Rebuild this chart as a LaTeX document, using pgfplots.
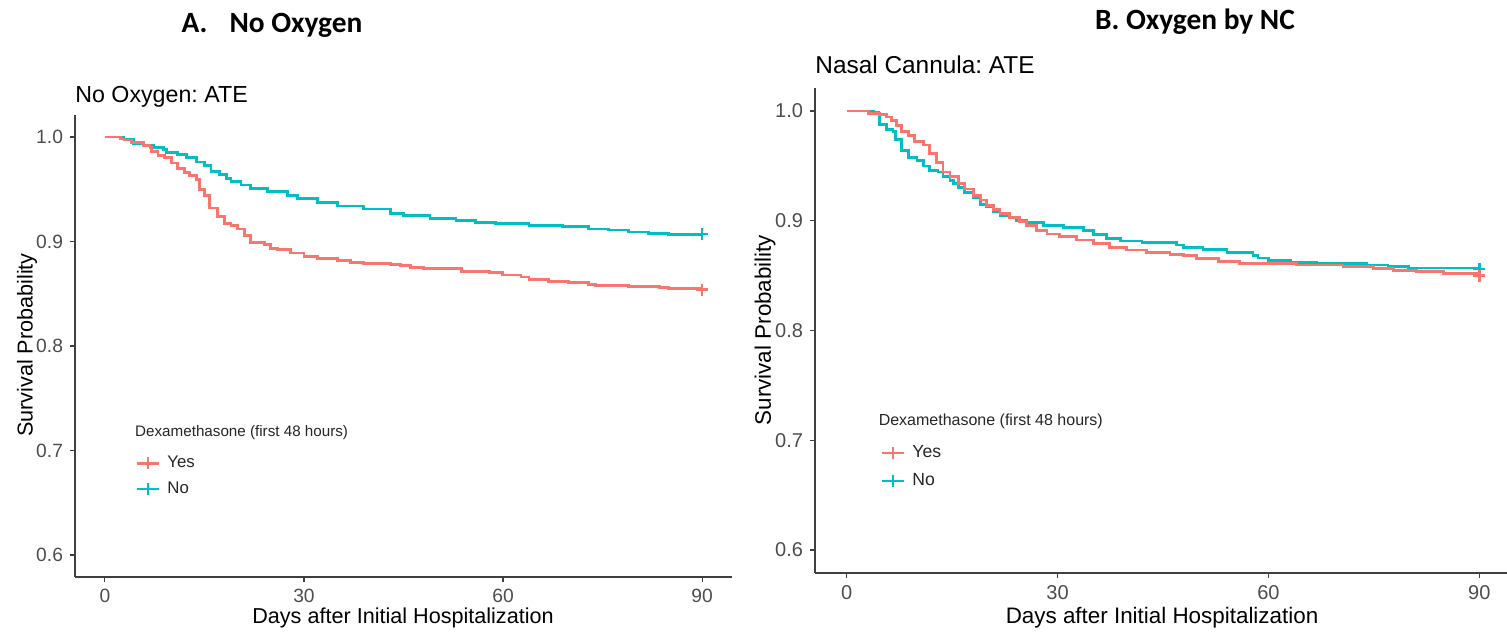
\documentclass[border=0pt]{standalone}
\usepackage{fontspec}
\setmainfont{Liberation Sans}
\newfontfamily\carlito{Carlito}
\usepackage{pgfplots}
\pgfplotsset{compat=1.18}
\frenchspacing

\definecolor{kmred}{HTML}{F8766D}
\definecolor{kmteal}{HTML}{00BFC4}
\definecolor{tickgrey}{HTML}{4D4D4D}

% ggplot "classic" look shared by both panels
\pgfplotsset{
  km/.style={
    scale only axis,
    axis lines=left,
    axis line style={-, black!75, line width=0.8pt},
    tick align=outside, major tick length=2.5pt,
    tick style={black!75, line width=0.6pt},
    xmin=-4.5, xmax=94.5, ymin=0.579, ymax=1.021,
    xtick={0,30,60,90},
    ytick={0.6,0.7,0.8,0.9,1.0},
    yticklabel style={/pgf/number format/fixed,
      /pgf/number format/fixed zerofill, /pgf/number format/precision=1},
    /pgf/number format/assume math mode=true,
    ticklabel style={text=tickgrey},
    clip=false,
    legend cell align=left,
    legend image code/.code={%
      \draw[mark repeat=2, mark phase=2, #1]
        plot coordinates {(0pt,0pt) (5.5pt,0pt) (11pt,0pt)};},
    legend style={draw=none, fill=none, anchor=north west,
      text=black!85, inner sep=0pt, column sep=1.5pt},
  },
  curve/.style={const plot, line width=1.4pt, forget plot},
  cens/.style={only marks, mark=+, mark size=3pt,
    mark options={line width=1.2pt}, forget plot},
  key/.style={line width=1.3pt, mark=+, mark size=3pt,
    mark options={line width=1.1pt}},
}

\begin{document}
\begin{tikzpicture}
\path[use as bounding box] (0,0) rectangle (753.5pt,317pt);

% ---------------- A. No oxygen ----------------
\begin{axis}[km, at={(37.5pt,28.5pt)}, anchor=south west,
    width=328.5pt, height=231pt,
    ticklabel style={font=\fontsize{9.6}{11}\selectfont},
    legend style={at={(rel axis cs:0.092,0.271)},
      font=\fontsize{8.4}{10}\selectfont, row sep=1.5pt}]
\addplot[curve, kmteal] coordinates {
  (0,1.000) (2.8,0.998) (4.3,0.994) (5.8,0.992) (7.3,0.990) (8.8,0.988)
  (9.3,0.985) (11.0,0.983) (12.3,0.980) (13.8,0.976) (15.0,0.973)
  (16.0,0.967) (17.3,0.964) (18.3,0.960) (19.0,0.957) (20.5,0.954)
  (22.0,0.951) (24.5,0.948) (27.5,0.944) (29.0,0.941) (32.0,0.937)
  (35.0,0.934) (39.0,0.931) (43.0,0.927) (45.0,0.925) (49.0,0.922)
  (52.9,0.920) (55.9,0.918) (58.9,0.917) (63.9,0.915) (68.9,0.914)
  (72.9,0.912) (75.9,0.911) (78.9,0.909) (81.9,0.908) (84.9,0.907)
  (90,0.907)};
\addplot[curve, kmred] coordinates {
  (0,1.000) (2.3,0.998) (3.0,0.997) (4.0,0.995) (5.8,0.992) (6.8,0.990)
  (7.0,0.986) (8.0,0.982) (9.0,0.980) (10.0,0.975) (11.0,0.970)
  (12.0,0.966) (12.8,0.963) (13.8,0.959) (14.3,0.950) (15.0,0.944)
  (15.8,0.932) (17.0,0.924) (18.0,0.917) (19.0,0.915) (20.0,0.912)
  (21.0,0.906) (22.0,0.899) (24.0,0.897) (25.0,0.893) (26.0,0.892)
  (28.0,0.889) (30.0,0.886) (32.0,0.884) (35.0,0.882) (37.0,0.880)
  (39.0,0.879) (43.0,0.878) (44.5,0.877) (46.0,0.875) (48.0,0.874)
  (53.7,0.871) (57.9,0.870) (59.9,0.868) (62.7,0.866) (63.9,0.864)
  (66.9,0.862) (69.9,0.861) (72.9,0.859) (73.9,0.858) (78.9,0.857)
  (83.6,0.856) (84.9,0.855) (89.6,0.854) (90,0.854)};
\addplot[cens, kmteal] coordinates {(90,0.907)};
\addplot[cens, kmred] coordinates {(90,0.854)};
\addlegendimage{key, kmred}
\addlegendentry{Yes}
\addlegendimage{key, kmteal}
\addlegendentry{No}
\node[anchor=west, inner sep=0pt, font=\fontsize{7.6}{9}\selectfont,
  text=black!85] at (rel axis cs:0.091,0.312) {Dexamethasone (first 48 hours)};
\end{axis}

% ---------------- B. Oxygen by nasal cannula ----------------
\begin{axis}[km, at={(407.5pt,30.5pt)}, anchor=south west,
    width=348pt, height=242.5pt,
    ticklabel style={font=\fontsize{10}{12}\selectfont},
    legend style={at={(rel axis cs:0.094,0.272)},
      font=\fontsize{8.8}{10}\selectfont, row sep=2.5pt}]
\addplot[curve, kmteal] coordinates {
  (0,1.000) (3.8,0.999) (4.5,0.9975) (4.7,0.988) (5.7,0.983) (6.6,0.981)
  (6.9,0.974) (7.8,0.964) (8.8,0.958) (10.0,0.955) (10.9,0.950)
  (11.8,0.946) (13.0,0.9445) (13.7,0.940) (14.7,0.937) (15.2,0.934)
  (15.9,0.930) (16.8,0.926) (18.0,0.921) (19.0,0.915) (19.9,0.913)
  (20.9,0.908) (21.8,0.905) (23.2,0.903) (24.2,0.9006) (25.6,0.8985)
  (28.0,0.8955) (30.8,0.8936) (33.7,0.8915) (35.1,0.8876) (37.0,0.884)
  (38.9,0.8815) (42.0,0.880) (46.9,0.878) (47.9,0.8755) (50.7,0.874)
  (54.1,0.871) (57.8,0.868) (58.5,0.866) (60.0,0.8636) (63.1,0.862)
  (66.9,0.861) (74.0,0.8597) (77.0,0.858) (79.9,0.857) (89.6,0.856)
  (90,0.856)};
\addplot[curve, kmred] coordinates {
  (0,1.000) (3.1,0.998) (4.7,0.9966) (5.7,0.9945) (6.4,0.9915) (7.1,0.987)
  (7.8,0.9815) (8.8,0.978) (9.7,0.972) (10.9,0.969) (11.8,0.961)
  (12.8,0.953) (13.7,0.9445) (14.7,0.940) (15.9,0.934) (16.8,0.929)
  (18.0,0.923) (19.0,0.919) (19.9,0.914) (20.9,0.910) (21.8,0.9066)
  (23.2,0.9027) (24.6,0.899) (25.6,0.896) (27.0,0.8915) (28.5,0.888)
  (30.3,0.8855) (32.7,0.8825) (35.1,0.879) (37.4,0.876) (39.8,0.8734)
  (42.7,0.871) (46.0,0.8694) (47.9,0.868) (49.8,0.8657) (52.9,0.8627)
  (55.9,0.861) (64.0,0.8597) (70.6,0.858) (74.9,0.8566) (77.8,0.855)
  (81.1,0.8536) (84.9,0.852) (89.6,0.850) (90,0.850)};
\addplot[cens, kmteal] coordinates {(90,0.856)};
\addplot[cens, kmred] coordinates {(90,0.850)};
\addlegendimage{key, kmred}
\addlegendentry{Yes}
\addlegendimage{key, kmteal}
\addlegendentry{No}
\node[anchor=west, inner sep=0pt, font=\fontsize{8}{9.5}\selectfont,
  text=black!85] at (rel axis cs:0.091,0.313) {Dexamethasone (first 48 hours)};
\end{axis}

% panel headings, subtitles and axis titles
\node[font=\carlito\bfseries\fontsize{14.7}{16}\selectfont]
  at (136pt,304.5pt) {A.\hspace{0.75em}No Oxygen};
\node[font=\carlito\bfseries\fontsize{14.7}{16}\selectfont]
  at (597.5pt,306pt) {B. Oxygen by NC};
\node[anchor=west, font=\fontsize{11.6}{13}\selectfont, inner sep=0pt]
  at (37.5pt,268.5pt) {No Oxygen: ATE};
\node[anchor=west, font=\fontsize{12.2}{14}\selectfont, inner sep=0pt]
  at (407.5pt,284.5pt) {Nasal Cannula: ATE};
\node[rotate=90, font=\fontsize{10.8}{12}\selectfont]
  at (13.5pt,144.5pt) {Survival Probability};
\node[rotate=90, font=\fontsize{11.2}{12}\selectfont]
  at (382.5pt,152pt) {Survival Probability};
\node[font=\fontsize{10.8}{12}\selectfont] at (201.5pt,8pt)
  {Days after Initial Hospitalization};
\node[font=\fontsize{11.2}{12}\selectfont] at (581pt,8pt)
  {Days after Initial Hospitalization};
\end{tikzpicture}
\end{document}
